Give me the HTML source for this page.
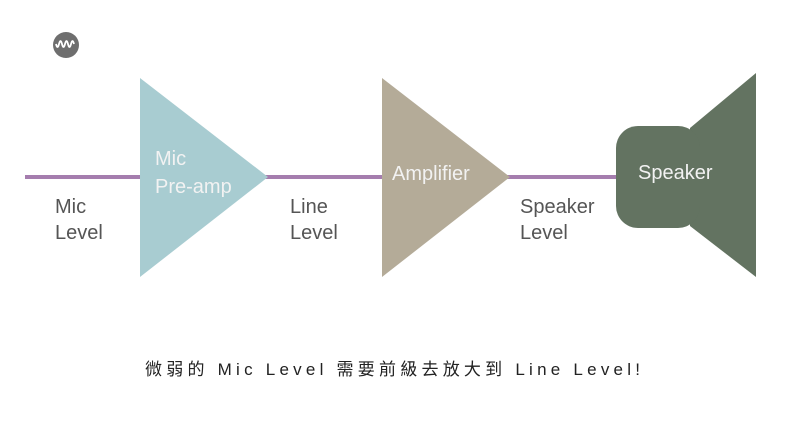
<!DOCTYPE html>
<html><head><meta charset="utf-8"><style>html,body{margin:0;padding:0;background:#fff}svg{display:block}</style></head>
<body>
<svg width="800" height="436" viewBox="0 0 800 436" xmlns="http://www.w3.org/2000/svg">
<rect width="800" height="436" fill="#fff"/>
<circle cx="66" cy="45" r="13" fill="#6e6e6e"/>
<path d="M56 44 q1.5 6 3 0 t3 0 t3 0 t3 0 t3 0 t3 0" fill="none" stroke="#fff" stroke-width="1.8"/>
<line x1="25" y1="177" x2="620" y2="177" stroke="#a57dae" stroke-width="4"/>
<polygon points="140,78 140,277 268,177" fill="#a8ccd1"/>
<polygon points="382,78 382,277 510,177" fill="#b4ab98"/>
<polygon points="690,128 756,73 756,277 690,226" fill="#637361"/>
<rect x="616" y="126" width="84" height="102" rx="22" fill="#637361"/>
<g font-family="Liberation Sans, sans-serif" font-size="20">
<text x="155" y="165" fill="#f2f2f2">Mic</text>
<text x="155" y="193" fill="#f2f2f2">Pre-amp</text>
<text x="392" y="180" fill="#f2f2f2">Amplifier</text>
<text x="638" y="179" fill="#f2f2f2">Speaker</text>
<g fill="#555">
<text x="55" y="213">Mic</text><text x="55" y="239">Level</text>
<text x="290" y="213">Line</text><text x="290" y="239">Level</text>
<text x="520" y="213">Speaker</text><text x="520" y="239">Level</text>
</g></g>
<text x="145" y="375" font-family="Liberation Sans, Noto Sans CJK TC, sans-serif" font-size="17" fill="#222" textLength="495" lengthAdjust="spacing">微弱的 Mic Level 需要前級去放大到 Line Level!</text>
</svg>
</body></html>
